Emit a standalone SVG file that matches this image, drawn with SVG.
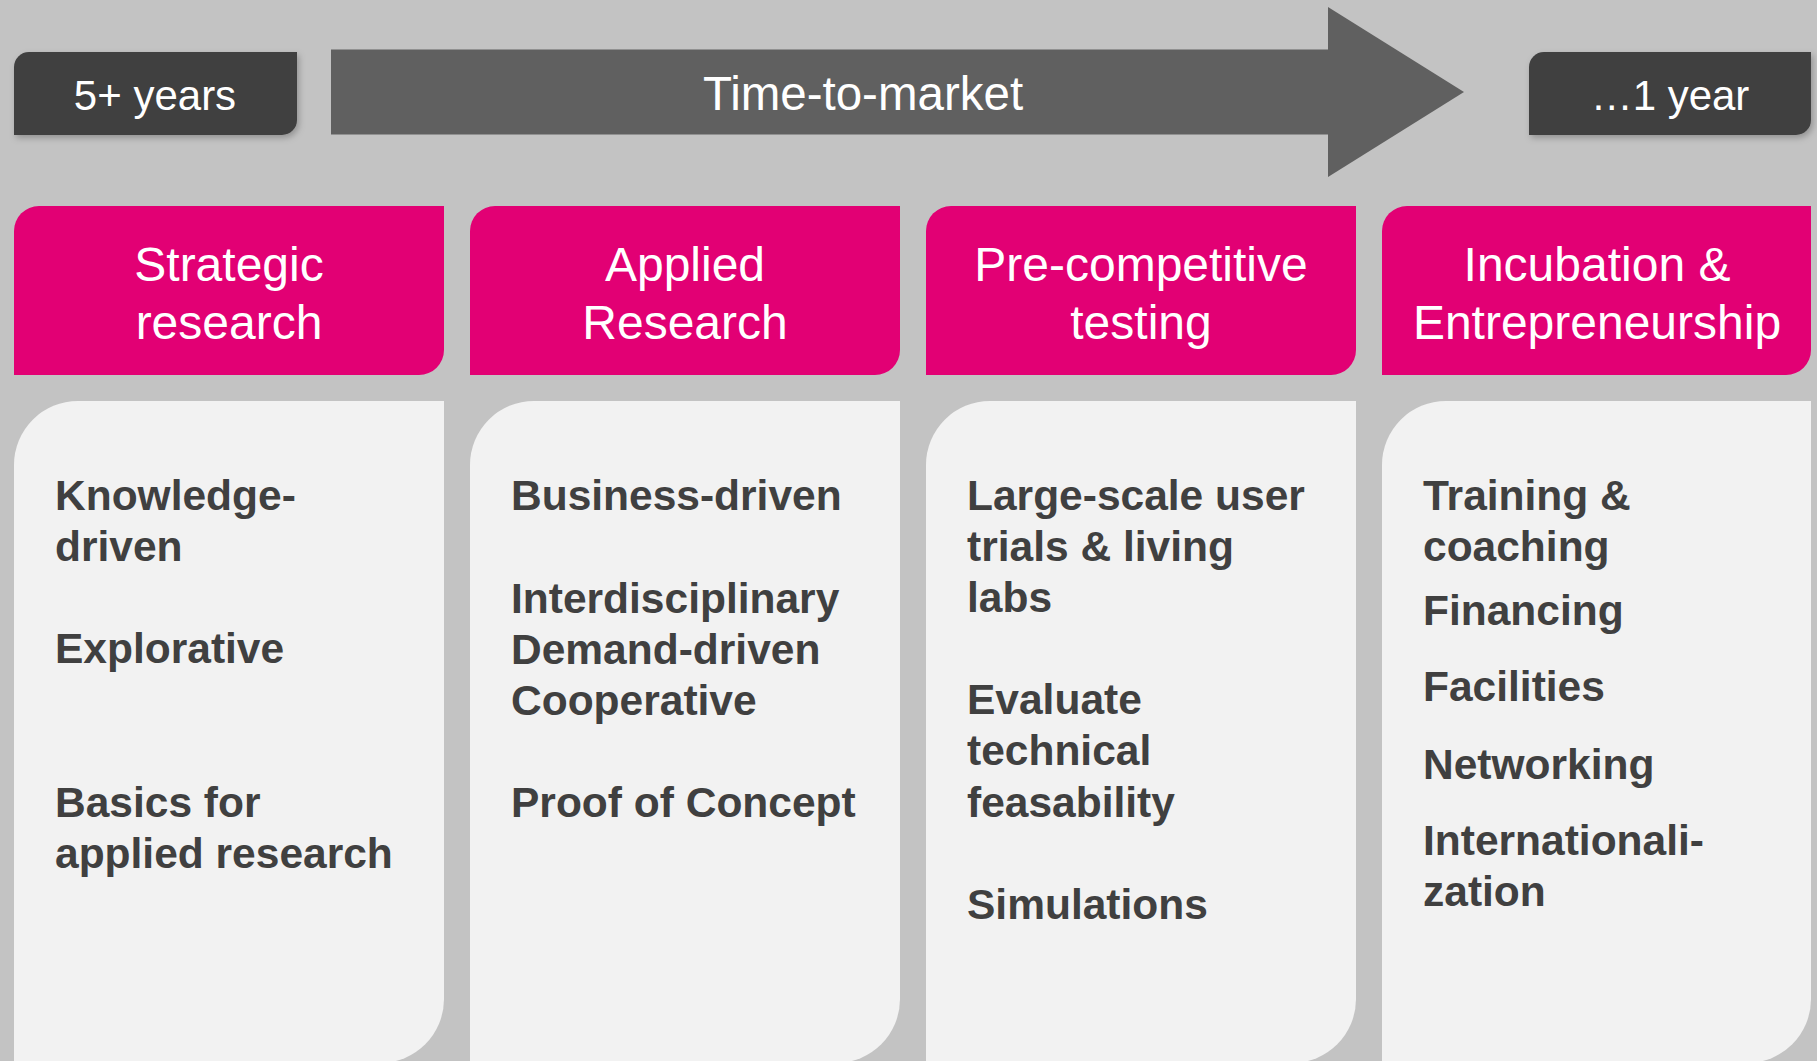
<svg xmlns="http://www.w3.org/2000/svg" width="1817" height="1061" viewBox="0 0 1817 1061">
<defs>
<style>
.bg{fill:#c3c3c3}
.dark{fill:#404040}
.arrow{fill:#606060}
.head{fill:#e20074}
.body{fill:#f2f2f2}
.tw{font-family:"Liberation Sans",Arial,sans-serif;fill:#ffffff;text-anchor:middle}
.tt{font-size:42px}
.th{font-size:48px}
.tb{font-family:"Liberation Sans",Arial,sans-serif;font-weight:bold;font-size:42.5px;fill:#404040}
</style>
<filter id="sh" x="-10%" y="-20%" width="120%" height="150%">
<feDropShadow dx="2" dy="3" stdDeviation="3" flood-color="#000" flood-opacity="0.25"/>
</filter>
</defs>
<rect class="bg" x="0" y="0" width="1817" height="1061"/>

<g id="start">
<path class="dark" filter="url(#sh)" d="M14,67 A15,15 0 0 1 29,52 H297 V120 A15,15 0 0 1 282,135 H14 Z"/>
<text class="tw tt" x="155" y="110">5+ years</text>
</g>

<g id="connectors">
<g id="time-to-market">
<polygon class="arrow" points="331,49.5 1328,49.5 1328,7 1464,92 1328,177 1328,134.5 331,134.5"/>
<text class="tw" style="font-size:47.5px" x="863" y="110">Time-to-market</text>
</g>
</g>

<g id="end">
<path class="dark" filter="url(#sh)" d="M1529,67 A15,15 0 0 1 1544,52 H1811 V120 A15,15 0 0 1 1796,135 H1529 Z"/>
<text class="tw tt" x="1670" y="110">…1 year</text>
</g>

<g id="col1">
<path class="head" d="M14,231 A25,25 0 0 1 39,206 H444 V350 A25,25 0 0 1 419,375 H14 Z"/>
<text class="tw th" x="229" y="281">Strategic</text>
<text class="tw th" x="229" y="339">research</text>
<path class="body" d="M14,465 A64,64 0 0 1 78,401 H444 V999 A64,64 0 0 1 380,1063 H14 Z"/>
<text class="tb" x="55" y="510">Knowledge-</text>
<text class="tb" x="55" y="561">driven</text>
<text class="tb" x="55" y="663">Explorative</text>
<text class="tb" x="55" y="817">Basics for</text>
<text class="tb" x="55" y="868">applied research</text>
</g>

<g id="col2">
<path class="head" d="M470,231 A25,25 0 0 1 495,206 H900 V350 A25,25 0 0 1 875,375 H470 Z"/>
<text class="tw th" x="685" y="281">Applied</text>
<text class="tw th" x="685" y="339">Research</text>
<path class="body" d="M470,465 A64,64 0 0 1 534,401 H900 V999 A64,64 0 0 1 836,1063 H470 Z"/>
<text class="tb" x="511" y="510">Business-driven</text>
<text class="tb" x="511" y="613">Interdisciplinary</text>
<text class="tb" x="511" y="664">Demand-driven</text>
<text class="tb" x="511" y="715">Cooperative</text>
<text class="tb" x="511" y="817">Proof of Concept</text>
</g>

<g id="col3">
<path class="head" d="M926,231 A25,25 0 0 1 951,206 H1356 V350 A25,25 0 0 1 1331,375 H926 Z"/>
<text class="tw th" x="1141" y="281">Pre-competitive</text>
<text class="tw th" x="1141" y="339">testing</text>
<path class="body" d="M926,465 A64,64 0 0 1 990,401 H1356 V999 A64,64 0 0 1 1292,1063 H926 Z"/>
<text class="tb" x="967" y="510">Large-scale user</text>
<text class="tb" x="967" y="561">trials &amp; living</text>
<text class="tb" x="967" y="612">labs</text>
<text class="tb" x="967" y="714">Evaluate</text>
<text class="tb" x="967" y="765">technical</text>
<text class="tb" x="967" y="817">feasability</text>
<text class="tb" x="967" y="919">Simulations</text>
</g>

<g id="col4">
<path class="head" d="M1382,231 A25,25 0 0 1 1407,206 H1811 V350 A25,25 0 0 1 1786,375 H1382 Z"/>
<text class="tw th" x="1597" y="281">Incubation &amp;</text>
<text class="tw th" x="1597" y="339">Entrepreneurship</text>
<path class="body" d="M1382,465 A64,64 0 0 1 1446,401 H1811 V999 A64,64 0 0 1 1747,1063 H1382 Z"/>
<text class="tb" x="1423" y="510">Training &amp;</text>
<text class="tb" x="1423" y="561">coaching</text>
<text class="tb" x="1423" y="625">Financing</text>
<text class="tb" x="1423" y="701">Facilities</text>
<text class="tb" x="1423" y="779">Networking</text>
<text class="tb" x="1423" y="855">Internationali-</text>
<text class="tb" x="1423" y="906">zation</text>
</g>
</svg>
